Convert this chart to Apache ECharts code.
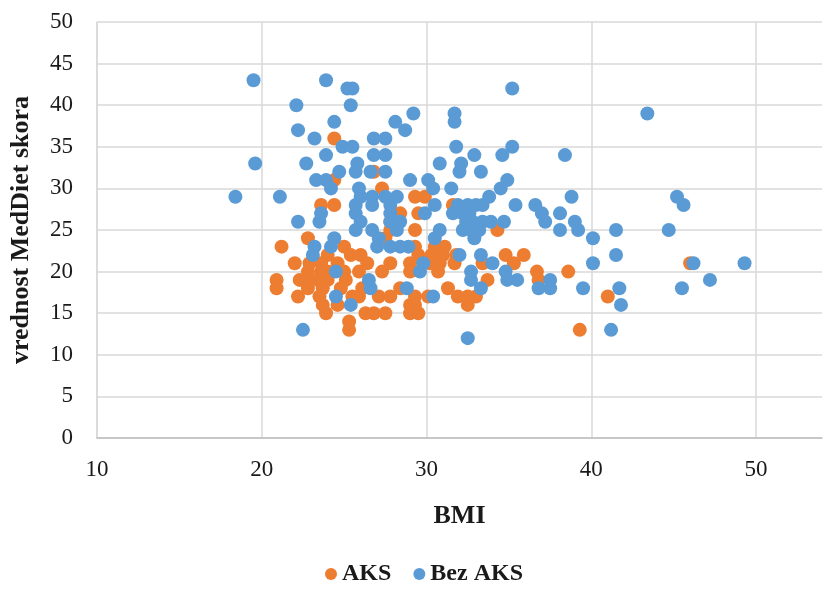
<!DOCTYPE html>
<html>
<head>
<meta charset="utf-8">
<script src="https://cdn.jsdelivr.net/npm/echarts@6/dist/echarts.min.js"></script>
<style>
  html, body { margin: 0; padding: 0; background: #ffffff; }
  #chart { width: 826px; height: 591px; }
</style>
</head>
<body>
<div id="chart"></div>
<script>
// Series names
const seriesNames = ['AKS', 'Bez AKS'];

// AKS: BMI and MedDiet score
const aksBMI = [
  24.4, 26.8, 24.4, 27.3, 29.3, 29.9, 23.6, 24.4, 31.6, 28.4, 29.5, 27.8,
  27.8, 29.3, 34.3, 22.8, 27.5, 21.2, 25.0, 29.3, 30.5, 31.1,
  25.4, 29.5, 30.3, 31.0, 31.8, 34.8, 35.9, 24.0, 26.0,
  22.0, 22.9, 23.6, 24.6, 26.4, 27.8, 29.0, 30.2, 30.8, 31.7, 33.4, 35.3, 46.0,
  23.6, 24.0, 25.9, 27.3, 29.0, 30.7, 36.7, 38.6, 22.8, 25.0,
  20.9, 22.3, 22.9, 23.4, 24.0, 25.1, 33.7, 36.8,
  20.9, 22.8, 23.7, 26.1, 28.4, 31.3, 24.8,
  22.2, 23.5, 25.9, 27.1, 27.8, 29.3, 30.1, 31.9, 32.5, 33.0, 41.0, 25.5,
  23.7, 24.6, 29.0, 29.3, 32.5,
  23.9, 26.3, 26.8, 27.5, 29.0, 29.5,
  25.3, 25.3, 39.3
];
const aksScore = [
  36, 32, 31, 30, 29, 29, 28, 28, 28, 27, 27, 26,
  25, 25, 25, 24, 24, 23, 23, 23, 23, 23,
  22, 22, 22, 22, 22, 22, 22, 22, 22,
  21, 21, 21, 21, 21, 21, 21, 21, 21, 21, 21, 21, 21,
  20, 20, 20, 20, 20, 20, 20, 20, 20, 20,
  19, 19, 19, 19, 19, 19, 19, 19,
  18, 18, 18, 18, 18, 18, 18,
  17, 17, 17, 17, 17, 17, 17, 17, 17, 17, 17, 17,
  16, 16, 16, 16, 16,
  15, 15, 15, 15, 15, 15,
  14, 13, 13
];

// Bez AKS: BMI and MedDiet score
const bezBMI = [
  19.5, 23.9, 25.2, 25.5, 35.2,
  22.1, 25.4,
  29.2, 31.7, 43.4,
  28.1, 24.4, 31.7,
  22.2, 28.7,
  23.2, 26.8, 27.5,
  24.9, 25.5, 31.8, 35.2,
  23.9, 26.8, 27.5, 32.9, 34.6, 38.4,
  19.6, 22.7, 25.8, 30.8, 32.1,
  24.7, 25.7, 26.6, 27.5, 32.0, 33.3,
  23.3, 23.9, 29.0, 30.1, 34.9,
  24.2, 25.9, 30.4, 31.5, 34.5,
  18.4, 21.1, 26.0, 26.7, 27.5, 28.2, 33.8, 38.8, 45.2,
  25.7, 26.7, 27.8, 30.5, 31.9, 32.5, 33.0, 33.4, 35.4, 36.6, 45.6,
  23.6, 25.7, 27.8, 29.9, 31.6, 32.2, 32.6, 37.0, 38.1,
  22.2, 23.5, 26.0, 27.8, 28.4, 32.4, 32.8, 33.4, 33.9, 34.7, 37.2, 39.0,
  25.7, 26.7, 28.2, 30.8, 32.2, 32.7, 33.2, 38.1, 39.2, 41.5, 44.7,
  24.4, 27.1, 30.5, 32.9, 40.1,
  23.2, 24.2, 27.0, 27.8, 28.4, 28.9,
  23.1, 32.0, 33.3, 41.5,
  29.8, 34.0, 40.1, 46.2, 49.3,
  24.5, 29.6, 32.7, 34.8,
  26.5, 32.7, 34.9, 35.5, 37.5, 47.2,
  26.6, 28.8, 33.3, 36.8, 37.5, 39.5, 41.7, 45.5,
  24.5, 30.4,
  25.4, 41.8,
  22.5, 41.2,
  32.5
];
const bezScore = [
  43, 43, 42, 42, 42,
  40, 40,
  39, 39, 39,
  38, 38, 38,
  37, 37,
  36, 36, 36,
  35, 35, 35, 35,
  34, 34, 34, 34, 34, 34,
  33, 33, 33, 33, 33,
  32, 32, 32, 32, 32, 32,
  31, 31, 31, 31, 31,
  30, 30, 30, 30, 30,
  29, 29, 29, 29, 29, 29, 29, 29, 29,
  28, 28, 28, 28, 28, 28, 28, 28, 28, 28, 28,
  27, 27, 27, 27, 27, 27, 27, 27, 27,
  26, 26, 26, 26, 26, 26, 26, 26, 26, 26, 26, 26,
  25, 25, 25, 25, 25, 25, 25, 25, 25, 25, 25,
  24, 24, 24, 24, 24,
  23, 23, 23, 23, 23, 23,
  22, 22, 22, 22,
  21, 21, 21, 21, 21,
  20, 20, 20, 20,
  19, 19, 19, 19, 19, 19,
  18, 18, 18, 18, 18, 18, 18, 18,
  17, 17,
  16, 16,
  13, 13,
  12
];

const zip = (xs, ys) => xs.map((x, i) => [x, ys[i]]);

const FONT = '"Liberation Serif", "Times New Roman", serif';
const TEXT = '#1a1a1a';
const GRID = '#D9D9D9';

const chart = echarts.init(document.getElementById('chart'), null, { renderer: 'canvas' });

chart.setOption({
  animation: false,
  backgroundColor: '#ffffff',
  textStyle: { fontFamily: FONT },
  grid: { left: 94, right: 4, top: 22, bottom: 153, containLabel: false },
  legend: {
    data: seriesNames,
    bottom: 0,
    left: 320,
    icon: 'circle',
    itemWidth: 12,
    itemHeight: 12,
    itemGap: 22,
    textStyle: { fontFamily: FONT, fontSize: 24, fontWeight: 'bold', color: TEXT }
  },
  xAxis: {
    type: 'value',
    min: 10,
    max: 54,
    interval: 10,
    name: 'BMI',
    nameLocation: 'middle',
    nameGap: 65,
    nameTextStyle: { fontFamily: FONT, fontSize: 26, fontWeight: 'bold', color: TEXT },
    axisLine: { show: true, lineStyle: { color: '#BFBFBF', width: 1.5 } },
    axisTick: { show: false },
    axisLabel: { fontFamily: FONT, fontSize: 23, color: TEXT, margin: 20, showMaxLabel: false },
    splitLine: { show: true, showMaxLine: false, lineStyle: { color: GRID, width: 1.5 } }
  },
  yAxis: {
    type: 'value',
    min: 0,
    max: 50,
    interval: 5,
    name: 'vrednost MedDiet skora',
    nameLocation: 'middle',
    nameGap: 63,
    nameTextStyle: { fontFamily: FONT, fontSize: 26, fontWeight: 'bold', color: TEXT },
    axisLine: { show: true, lineStyle: { color: GRID, width: 1.5 } },
    axisTick: { show: false },
    axisLabel: { fontFamily: FONT, fontSize: 23, color: TEXT, margin: 24 },
    splitLine: { show: true, lineStyle: { color: GRID, width: 1.5 } }
  },
  series: [
    {
      name: seriesNames[0],
      type: 'scatter',
      symbol: 'circle',
      symbolSize: 14,
      itemStyle: { color: '#ED7D31', opacity: 1 },
      data: zip(aksBMI, aksScore),
      z: 2
    },
    {
      name: seriesNames[1],
      type: 'scatter',
      symbol: 'circle',
      symbolSize: 14,
      itemStyle: { color: '#5B9BD5', opacity: 1 },
      data: zip(bezBMI, bezScore),
      z: 3
    }
  ]
});
</script>
</body>
</html>
